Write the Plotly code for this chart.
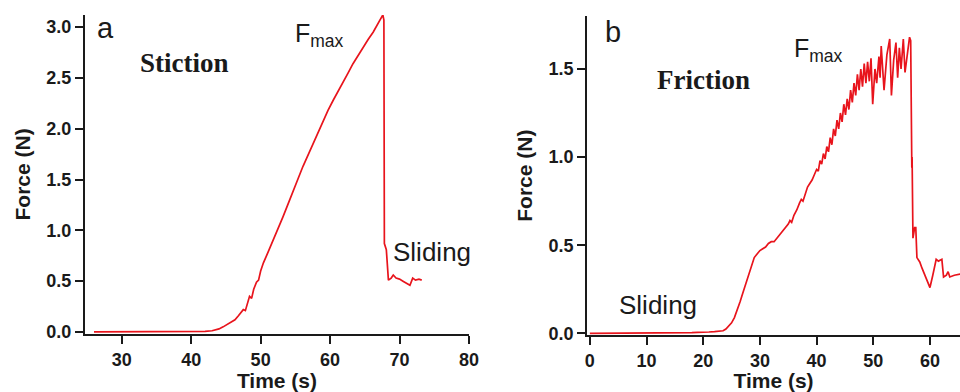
import plotly.graph_objects as go

# Panel a: stiction
time_a = [26, 30, 35, 40, 41, 42, 43, 44, 44.6, 45.2, 45.8, 46.3, 46.8, 47.2, 47.5, 47.8,
          48.1, 48.4, 48.7, 49.0, 49.4, 49.7, 50.0, 50.4, 51.1, 51.8, 52.5, 53.2, 53.9,
          54.7, 55.4, 56.1, 56.8, 57.6, 58.3, 59.0, 59.7, 60.45, 61.2, 61.9, 62.6, 63.3,
          64.0, 64.8, 65.5, 66.2, 66.7, 67.2, 67.6, 67.75, 67.82, 68.1, 68.4, 68.8, 69.1,
          69.5, 70.0, 70.5, 71.0, 71.5, 71.9, 72.3, 72.8, 73.2]
force_a = [0.0, 0.0, 0.0, 0.0, 0.003, 0.006, 0.012, 0.03, 0.05, 0.075, 0.1, 0.12, 0.16,
           0.2, 0.22, 0.21, 0.29, 0.35, 0.33, 0.42, 0.49, 0.51, 0.6, 0.68, 0.79, 0.9, 1.01,
           1.13, 1.25, 1.38, 1.51, 1.63, 1.74, 1.86, 1.97, 2.08, 2.18, 2.28, 2.37, 2.46,
           2.55, 2.64, 2.72, 2.81, 2.88, 2.95, 3.01, 3.08, 3.12, 3.07, 0.87, 0.81, 0.51,
           0.53, 0.56, 0.53, 0.52, 0.5, 0.48, 0.46, 0.53, 0.51, 0.52, 0.51]

# Panel b: friction
time_b = [0, 2, 4, 4.3, 6, 8, 10, 12, 14, 16, 18, 19, 20, 21, 22, 23, 23.5, 24, 24.5, 25,
          25.5, 26, 26.5, 27, 27.5, 28, 28.5, 29, 29.5, 30, 30.5, 31, 31.5, 32, 32.5, 33,
          33.5, 34, 34.5, 35, 35.3, 35.6, 36, 36.5, 37, 37.3, 37.6, 38, 38.4, 38.8, 39.2,
          39.6, 40, 40.3, 40.6, 40.9, 41.2, 41.5, 41.8, 42.1, 42.4, 42.7, 43, 43.3, 43.6,
          43.9, 44.2, 44.5, 44.8, 45.1, 45.4, 45.7, 46, 46.3, 46.6, 46.9, 47.2, 47.5, 47.8,
          48.1, 48.4, 48.7, 49, 49.3, 49.6, 49.9, 50.3, 50.6, 51.0, 51.2, 51.4, 51.9, 52.4,
          52.9, 53.2, 53.6, 54.0, 54.3, 54.6, 54.9, 55.3, 55.6, 56.0, 56.4, 56.6, 56.7,
          56.8, 56.85, 57.0, 57.3, 57.5, 57.7, 58.2, 58.6, 59.1, 59.6, 60.0, 60.5, 61.1,
          61.5, 61.9, 62.1, 62.4, 62.9, 63.2, 63.5, 64.3, 65.3, 66]
force_b = [0.0, 0.0, 0.003, 0.0, 0.002, 0.0, 0.003, 0.0, 0.003, 0.001, 0.004, 0.006, 0.005,
           0.008, 0.01, 0.012, 0.015, 0.025, 0.04, 0.06, 0.09, 0.13, 0.18, 0.23, 0.28, 0.33,
           0.39, 0.43, 0.45, 0.47, 0.48, 0.49, 0.51, 0.52, 0.52, 0.54, 0.56, 0.58, 0.6, 0.62,
           0.64, 0.63, 0.67, 0.7, 0.74, 0.76, 0.75, 0.79, 0.83, 0.85, 0.87, 0.9, 0.93, 0.92,
           0.98, 0.96, 1.02, 0.99, 1.06, 1.03, 1.11, 1.07, 1.16, 1.12, 1.21, 1.16, 1.25, 1.2,
           1.3, 1.24, 1.33, 1.27, 1.38, 1.31, 1.42, 1.35, 1.47, 1.38, 1.5, 1.4, 1.53, 1.42,
           1.54, 1.43, 1.56, 1.3, 1.5, 1.42, 1.57, 1.45, 1.63, 1.38, 1.58, 1.67, 1.35, 1.55,
           1.65, 1.45, 1.62, 1.5, 1.67, 1.48, 1.6, 1.68, 1.66, 1.02, 0.94, 1.0, 0.54, 0.6,
           0.6, 0.43, 0.405, 0.37, 0.33, 0.29, 0.26, 0.33, 0.42, 0.41, 0.42, 0.42, 0.32,
           0.33, 0.35, 0.32, 0.33, 0.335, 0.34]

RED = "#e8141c"
INK = "#1a1a1a"
SANS = "Liberation Sans, Arial, sans-serif"
SERIF = "Liberation Serif, Times New Roman, serif"

fig = go.Figure()
fig.add_trace(go.Scatter(x=time_a, y=force_a, mode="lines",
                         line=dict(color=RED, width=1.7), xaxis="x", yaxis="y",
                         showlegend=False))
fig.add_trace(go.Scatter(x=time_b, y=force_b, mode="lines",
                         line=dict(color=RED, width=1.7), xaxis="x2", yaxis="y2",
                         showlegend=False))

tickfont = dict(family=SANS, size=18, color=INK, weight="bold")
titlefont = dict(family=SANS, size=21, color=INK, weight="bold")

common_axis = dict(showline=True, linecolor=INK, linewidth=2, ticks="outside",
                   ticklen=8, tickwidth=2, tickcolor=INK, showgrid=False,
                   zeroline=False, tickfont=tickfont, automargin=False)

fig.update_layout(
    width=960, height=392,
    margin=dict(l=0, r=0, t=0, b=0),
    paper_bgcolor="white", plot_bgcolor="white",
    xaxis=dict(domain=[0.0885, 0.4885], range=[24.7, 80], dtick=10, tick0=0,
               anchor="y", title=dict(text="Time (s)", font=titlefont, standoff=2),
               **common_axis),
    yaxis=dict(domain=[0.148, 0.962], range=[-0.02, 3.12], dtick=0.5, tick0=0,
               tickformat=".1f", anchor="x",
               title=dict(text="Force (N)", font=titlefont, standoff=10),
               **common_axis),
    xaxis2=dict(domain=[0.6115, 1.0], range=[-0.5, 65.3], dtick=10, tick0=0,
                anchor="y2", title=dict(text="Time (s)", font=titlefont, standoff=2),
                **common_axis),
    yaxis2=dict(domain=[0.145, 0.959], range=[-0.01, 1.80], dtick=0.5, tick0=0,
                tickformat=".1f", anchor="x2",
                title=dict(text="Force (N)", font=titlefont, standoff=10),
                **common_axis),
)

ann = []
# panel a
ann.append(dict(x=27.7, y=2.99, xref="x", yref="y", text="a", showarrow=False,
                font=dict(family=SANS, size=29, color=INK)))
ann.append(dict(x=39.1, y=2.645, xref="x", yref="y", text="<b>Stiction</b>", showarrow=False,
                font=dict(family=SERIF, size=27, color=INK)))
ann.append(dict(x=58.5, y=2.92, xref="x", yref="y", text="F<sub>max</sub>", showarrow=False,
                font=dict(family=SANS, size=25, color=INK)))
ann.append(dict(x=74.7, y=0.79, xref="x", yref="y", text="Sliding", showarrow=False,
                font=dict(family=SANS, size=26, color=INK)))
# panel b
ann.append(dict(x=4.06, y=1.71, xref="x2", yref="y2", text="b", showarrow=False,
                font=dict(family=SANS, size=29, color=INK)))
ann.append(dict(x=20.1, y=1.44, xref="x2", yref="y2", text="<b>Friction</b>", showarrow=False,
                font=dict(family=SERIF, size=27, color=INK)))
ann.append(dict(x=40.4, y=1.61, xref="x2", yref="y2", text="F<sub>max</sub>", showarrow=False,
                font=dict(family=SANS, size=25, color=INK)))
ann.append(dict(x=12.0, y=0.16, xref="x2", yref="y2", text="Sliding", showarrow=False,
                font=dict(family=SANS, size=26, color=INK)))
fig.update_layout(annotations=ann)

fig.write_html("out.html",
               config={"displayModeBar": False},
               post_script="document.body.style.margin='0';document.body.style.overflow='hidden';")
